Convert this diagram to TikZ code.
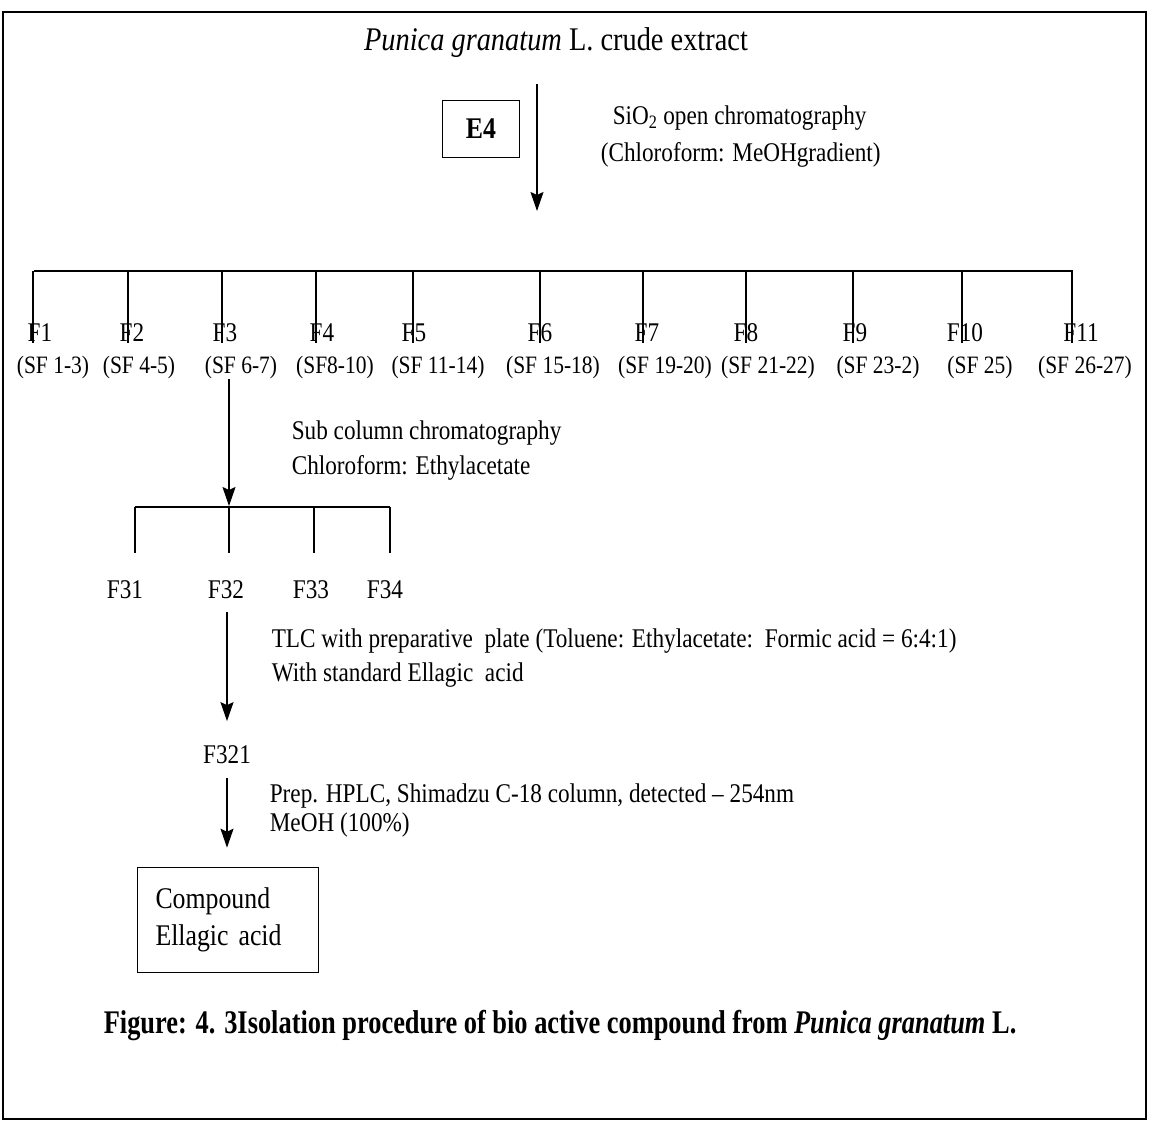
\documentclass[tikz,border=0pt]{standalone}
\usepackage{fontspec}
\setmainfont{Liberation Serif}[FakeStretch=0.86]
\newfontfamily\capfont{Liberation Serif}[FakeStretch=0.80]
\usetikzlibrary{positioning,arrows.meta}

\tikzset{
  txt/.style={inner sep=0pt, font=\fontsize{27}{35}\selectfont},
  frac/.style={inner sep=0pt, font=\fontsize{25}{30}\selectfont},
  note/.style={txt, anchor=north west, align=left},
  boxnode/.style={draw, line width=1.6pt},
}

\begin{document}
\begin{tikzpicture}[x=1pt,y=-1pt,line width=1.6pt,>={Stealth[length=19pt,width=13pt,inset=3pt]}]
  \useasboundingbox (0,0) rectangle (1154,1122);
  \draw[line width=2.5pt] (3,12) rectangle (1146,1119);

  % extract and first column
  \node[txt,font=\fontsize{33}{38}\selectfont] (crude) at (556,43) {\textit{Punica granatum} L. crude extract};
  \node[boxnode,txt,minimum width=77pt,minimum height=57pt,font=\bfseries\fontsize{30}{32}\selectfont] (e4) at (481,129) {E4};
  \coordinate (a0) at (537,84);
  \coordinate (a1) at (537,211);
  \draw[->] (a0) -- (a1);
  \node[note,font=\fontsize{27}{37}\selectfont] (sio) at (600,105) {\hspace{12pt}SiO\textsubscript{2} open chromatography\\(Chloroform: MeOHgradient)};

  % fractions F1--F11
  \coordinate (bl) at (34,271);
  \coordinate (br) at (1073,271);
  \draw (bl) -- (br);
  \foreach \t/\fx/\f/\sx/\s [count=\i] in {
      33/40/F1/53/{(SF 1-3)},
      128/132/F2/139/{(SF 4-5)},
      222/225/F3/241/{(SF 6-7)},
      316/322/F4/335/{(SF8-10)},
      413/414/F5/438/{(SF 11-14)},
      540/540/F6/553/{(SF 15-18)},
      643/647/F7/665/{(SF 19-20)},
      746/746/F8/768/{(SF 21-22)},
      853/855/F9/878/{(SF 23-2)},
      962/965/F10/980/{(SF 25)},
      1072/1081/F11/1085/{(SF 26-27)}}{
    \node[txt] (f\i) at (\fx,333) {\f};
    \node[frac] (sf\i) at (\sx,367) {\s};
    \coordinate (t\i) at (\t,271);
    \draw (t\i) -- (t\i |- f\i.south);
  }

  % sub column of F3
  \coordinate (s1) at (229,506);
  \draw[->] (sf3.south -| s1) -- (s1);
  \node[note] (sub) at (291,420) {Sub column chromatography\\Chloroform: Ethylacetate};
  \draw (135,507) -- (390,507);
  \foreach \t/\fx [count=\i] in {135/125,229/226,314/311,390/385}{
    \coordinate (u\i) at (\t,507);
    \node[txt] (g\i) at (\fx,590) {F3\i};
    \draw (u\i) -- ++(0,46);
  }

  % TLC and HPLC
  \node[txt] (f321) at (227,755) {F321};
  \coordinate (p1) at (227,612);
  \draw[->] (p1) -- ([yshift=24pt]f321.north);
  \node[note,font=\fontsize{27}{34}\selectfont] (tlc) at (271,628) {TLC with preparative\ \ plate (Toluene: Ethylacetate:\ \ Formic acid = 6:4:1)\\With standard Ellagic\ \ acid};
  \node[boxnode,txt,align=left,text width=145pt,inner xsep=18pt,minimum height=105pt,font=\fontsize{30}{37}\selectfont] (res) at (228,920) {Compound\\Ellagic acid};
  \draw[->] (f321.south) ++(0,13) -- ([yshift=19pt]res.north -| f321);
  \node[note,font=\fontsize{27}{29}\selectfont] (hplc) at (269,783) {Prep. HPLC, Shimadzu C-18 column, detected -- 254nm\\MeOH (100\%)};

  % caption
  \node[inner sep=0pt,anchor=base west,font=\capfont\bfseries\fontsize{33}{38}\selectfont] (cap) at (103,1033) {Figure: 4. 3Isolation procedure of bio active compound from \textit{Punica granatum} L.};
\end{tikzpicture}
\end{document}
